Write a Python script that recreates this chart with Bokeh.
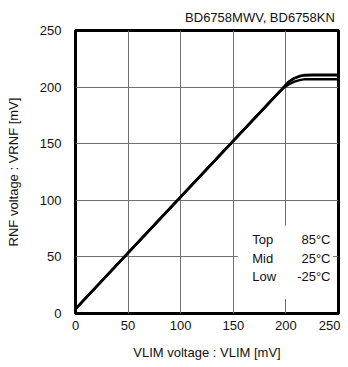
from bokeh.plotting import figure
from bokeh.models import Range1d, FixedTicker, ColumnDataSource
from bokeh.core.properties import value
from bokeh.embed import file_html
from bokeh.resources import INLINE

# ---- data ----
vlim = [0, 50, 100, 150, 190, 198, 203, 208, 213, 218, 225, 250]
vrnf_top = [4, 53.5, 103, 152.5, 192, 200, 205, 208, 209.8, 210.8, 211, 211]
vrnf_mid = [4, 53.5, 103, 152.5, 192, 200, 204.8, 207.8, 209.5, 210.3, 210.5, 210.5]
vrnf_low = [4, 53.5, 103, 152.5, 192, 199.5, 202.5, 204.8, 206.2, 207, 207, 207]
legend_names = ["Top", "Mid", "Low"]
legend_temps = ["85\u00b0C", "25\u00b0C", "-25\u00b0C"]
ticks = [0, 50, 100, 150, 200, 250]
title_text = "BD6758MWV,  BD6758KN"
x_label = "VLIM voltage : VLIM [mV]"
y_label = "RNF voltage : VRNF [mV]"

FONT = "Liberation Sans"

p = figure(width=340, height=364, output_backend="svg", toolbar_location=None,
           x_range=Range1d(0, 250), y_range=Range1d(0, 250),
           min_border_left=75, min_border_right=2, min_border_top=30, min_border_bottom=51)

p.title.text = title_text
p.title.align = "right"
p.title.text_font = FONT
p.title.text_font_size = "13px"
p.title.text_font_style = "normal"
p.title.text_color = "#111111"
p.title.standoff = 11

p.outline_line_color = "black"
p.outline_line_width = 3

for ax in (p.xaxis, p.yaxis):
    ax.ticker = FixedTicker(ticks=ticks)
    ax.axis_line_color = None
    ax.major_tick_line_color = None
    ax.minor_tick_line_color = None
    ax.major_label_text_font = FONT
    ax.major_label_text_font_size = "13px"
    ax.major_label_text_color = "#111111"
    ax.axis_label_text_font = FONT
    ax.axis_label_text_font_size = "13px"
    ax.axis_label_text_font_style = "normal"
    ax.axis_label_text_color = "#111111"

p.xaxis.axis_label = x_label
p.yaxis.axis_label = y_label
p.xaxis.major_label_standoff = 1
p.yaxis.major_label_standoff = 8
p.xaxis.axis_label_standoff = 12
p.yaxis.axis_label_standoff = 16

p.xgrid.ticker = FixedTicker(ticks=ticks)
p.ygrid.ticker = FixedTicker(ticks=ticks)
p.grid.grid_line_color = "#707070"
p.grid.grid_line_width = 1
p.background_fill_color = "white"

# white box behind the temperature key
p.quad(left=[154.3], right=[245], bottom=[12.5], top=[77.5],
       fill_color="white", line_color=None)

for ys in (vrnf_top, vrnf_mid, vrnf_low):
    p.line(vlim, ys, line_color="black", line_width=2.4)

row_y = [65.2, 48.5, 32.5]
src = ColumnDataSource(dict(n=legend_names, t=legend_temps, y=row_y,
                            xl=[168] * 3, xr=[242.4] * 3))
p.text(x="xl", y="y", text="n", source=src, text_font=value(FONT),
       text_font_size="13px", text_baseline="middle", text_align="left", text_color="#111111")
p.text(x="xr", y="y", text="t", source=src, text_font=value(FONT),
       text_font_size="13px", text_baseline="middle", text_align="right", text_color="#111111")

open("out.html", "w").write(file_html(p, INLINE))
